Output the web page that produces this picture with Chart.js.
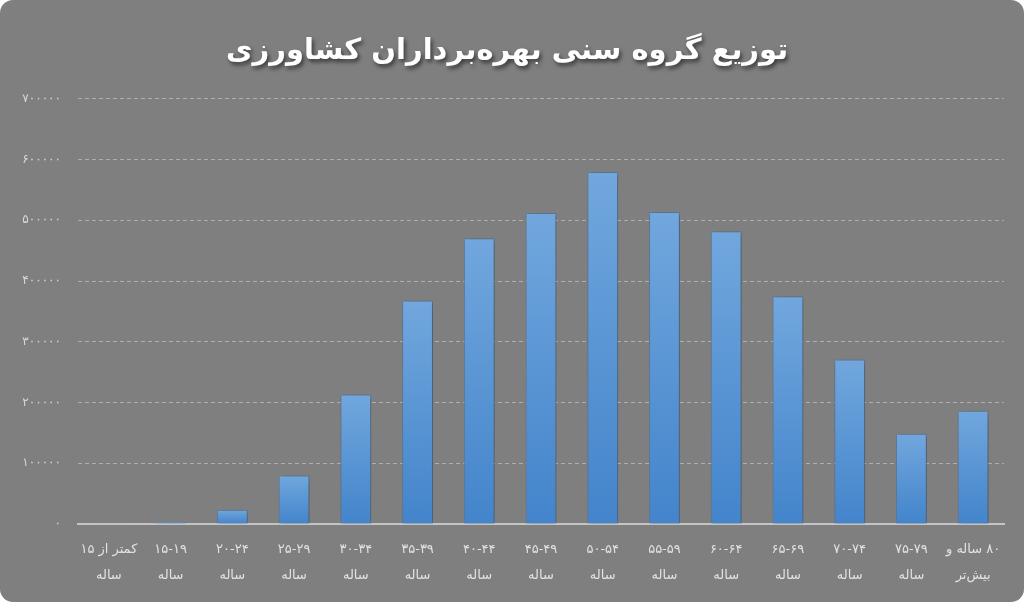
<!DOCTYPE html>
<html>
<head>
<meta charset="utf-8">
<script src="https://cdn.jsdelivr.net/npm/chart.js@4/dist/chart.umd.min.js"></script>
<style>
  html, body { margin: 0; padding: 0; background: #ffffff; }
  #wrap { width: 1024px; height: 602px; background: #7f7f7f; border-radius: 13px; overflow: hidden; position: relative; }
  canvas { direction: rtl; }
</style>
</head>
<body>
<div id="wrap"><canvas id="ageChart" dir="rtl"></canvas></div>
<script>
// age groups (two lines each)
const ageGroups = [
  ['کمتر از ۱۵', 'ساله'],
  ['۱۵-۱۹', 'ساله'],
  ['۲۰-۲۴', 'ساله'],
  ['۲۵-۲۹', 'ساله'],
  ['۳۰-۳۴', 'ساله'],
  ['۳۵-۳۹', 'ساله'],
  ['۴۰-۴۴', 'ساله'],
  ['۴۵-۴۹', 'ساله'],
  ['۵۰-۵۴', 'ساله'],
  ['۵۵-۵۹', 'ساله'],
  ['۶۰-۶۴', 'ساله'],
  ['۶۵-۶۹', 'ساله'],
  ['۷۰-۷۴', 'ساله'],
  ['۷۵-۷۹', 'ساله'],
  ['۸۰ ساله و', 'بیش‌تر']
];

// number of farm holders per age group
const holders = [400, 3800, 23600, 79700, 213000, 368000, 470500, 512000, 579500, 513500, 482000, 374800, 270800, 148600, 186600];

const yMax = 700000;
const yStep = 100000;

const chartTitle = 'توزیع گروه سنی بهره‌برداران کشاورزی';

// western digits -> persian digits
function toFa(n) {
  return String(n).replace(/[0-9]/g, d => '۰۱۲۳۴۵۶۷۸۹'[d]);
}

// per-bar vertical gradient, light on top
function barGradient(context) {
  const chart = context.chart;
  const y = chart.scales.y;
  if (!chart.chartArea || !y) return '#5b9bd5';
  const v = context.raw || 0;
  const top = y.getPixelForValue(v);
  const bottom = y.getPixelForValue(0);
  if (!isFinite(top) || bottom - top < 1) return '#5b9bd5';
  const g = chart.ctx.createLinearGradient(0, top, 0, bottom);
  g.addColorStop(0, '#71a7dd');
  g.addColorStop(1, '#4384cb');
  return g;
}

// soft shadow under the bars
const barShadow = {
  id: 'barShadow',
  beforeDatasetsDraw(chart) {
    const ctx = chart.ctx;
    ctx.save();
    ctx.shadowColor = 'rgba(0,0,0,0.35)';
    ctx.shadowBlur = 6;
    ctx.shadowOffsetX = 2;
    ctx.shadowOffsetY = 1;
  },
  afterDatasetsDraw(chart) {
    chart.ctx.restore();
  }
};

// title shadow + wider spacing on the y labels
const textTweaks = {
  id: 'textTweaks',
  afterLayout(chart) {
    const t = chart.titleBlock;
    if (t && !t._patched) {
      const orig = t.draw.bind(t);
      t.draw = function () {
        const ctx = chart.ctx;
        ctx.save();
        ctx.shadowColor = 'rgba(0,0,0,0.55)';
        ctx.shadowBlur = 4;
        ctx.shadowOffsetX = 2;
        ctx.shadowOffsetY = 3;
        orig();
        ctx.restore();
      };
      t._patched = true;
    }
    const ys = chart.scales.y;
    if (ys && !ys._patched) {
      const origLabels = ys.drawLabels.bind(ys);
      ys.drawLabels = function (area) {
        const ctx = chart.ctx;
        ctx.save();
        ctx.letterSpacing = '3px';
        origLabels(area);
        ctx.restore();
      };
      ys._patched = true;
    }
  }
};

new Chart(document.getElementById('ageChart'), {
  type: 'bar',
  data: {
    labels: ageGroups,
    datasets: [{
      label: 'بهره‌برداران',
      data: holders,
      backgroundColor: barGradient,
      borderColor: 'rgba(80,130,190,0.6)',
      borderWidth: 1,
      borderSkipped: 'bottom',
      categoryPercentage: 1.0,
      barPercentage: 0.5
    }]
  },
  options: {
    responsive: true,
    maintainAspectRatio: false,
    animation: false,
    layout: { padding: { left: 10, right: 20, top: 0, bottom: 8 } },
    plugins: {
      legend: { display: false },
      tooltip: { enabled: false },
      title: {
        display: true,
        text: chartTitle,
        color: '#ffffff',
        font: { family: 'DejaVu Sans', size: 29, weight: 'bold' },
        padding: { top: 34, bottom: 30 }
      }
    },
    scales: {
      x: {
        grid: { display: false },
        border: { display: true, color: '#c4c4c4', width: 2 },
        ticks: {
          color: '#e2e2e2',
          font: { family: 'DejaVu Sans', size: 13, lineHeight: 2 },
          padding: 5,
          maxRotation: 0,
          autoSkip: false
        }
      },
      y: {
        min: 0,
        max: yMax,
        afterFit(scale) { scale.width = 68; },
        grid: {
          color: 'rgba(190,190,190,0.75)',
          drawTicks: false
        },
        border: { display: false, dash: [4, 3] },
        ticks: {
          stepSize: yStep,
          color: '#d9d9d9',
          font: { family: 'DejaVu Sans', size: 12 },
          padding: 17,
          callback: v => toFa(v)
        }
      }
    }
  },
  plugins: [barShadow, textTweaks]
});
</script>
</body>
</html>
